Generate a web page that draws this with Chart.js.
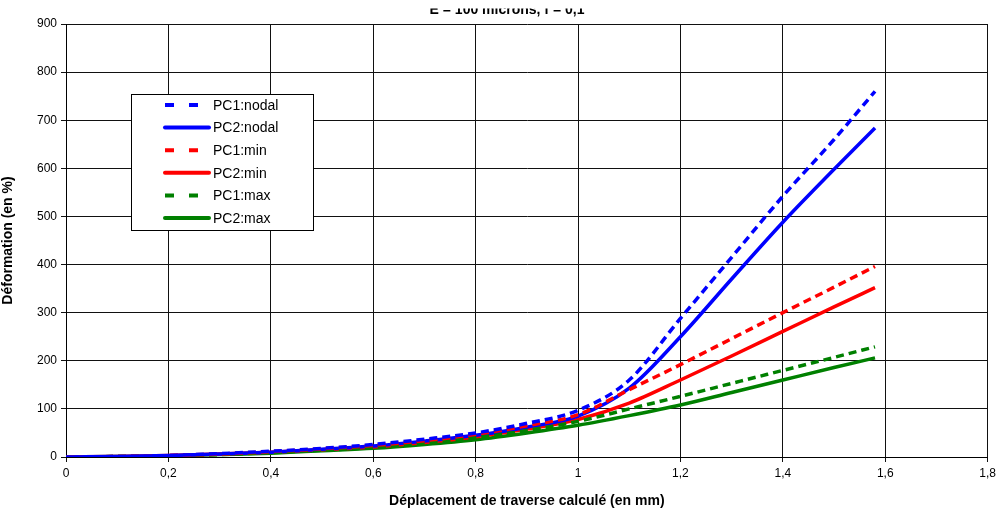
<!DOCTYPE html>
<html>
<head>
<meta charset="utf-8">
<script src="https://cdn.jsdelivr.net/npm/chart.js@4"></script>
<style>
  html, body { margin: 0; padding: 0; background: #fff; }
  #wrap { width: 1000px; height: 510px; position: relative; }
</style>
</head>
<body>
<div id="wrap"><canvas id="myChart" width="1000" height="510"></canvas></div>
<script>
// ===== data =====
const chartTitle = 'E = 100 microns, f = 0,1';
const xValues = [0, 0.1, 0.2, 0.3, 0.4, 0.5, 0.6, 0.7, 0.8, 0.9, 1.0, 1.1, 1.2, 1.3, 1.4, 1.5, 1.58];
const pc1Nodal = [0, 1, 3, 7, 12, 18, 26, 37, 50, 70, 97, 160, 288, 415, 542, 660, 760];
const pc2Nodal = [0, 1, 3, 6, 10, 16, 23, 33, 45, 62, 85, 143, 250, 370, 488, 598, 684];
const pc1Min   = [0, 1, 3, 6, 11, 17, 24, 34, 47, 65, 88, 140, 192, 246, 300, 353, 396];
const pc2Min   = [0, 1, 3, 6, 10, 15, 21, 30, 42, 58, 78, 112, 160, 210, 261, 312, 352];
const pc1Max   = [0, 1, 2, 5, 9, 14, 20, 29, 40, 55, 74, 100, 126, 153, 180, 207, 229];
const pc2Max   = [0, 1, 2, 5, 8, 13, 18, 26, 36, 50, 66, 86, 108, 134, 160, 186, 206];

const seriesLabels = ['PC1:nodal', 'PC2:nodal', 'PC1:min', 'PC2:min', 'PC1:max', 'PC2:max'];
const seriesValues = [pc1Nodal, pc2Nodal, pc1Min, pc2Min, pc1Max, pc2Max];
const seriesColors = ['#0000ff', '#0000ff', '#ff0000', '#ff0000', '#008000', '#008000'];
const seriesDashed = [true, false, true, false, true, false];

const xTitle = 'Déplacement de traverse calculé (en mm)';
const yTitle = 'Déformation (en %)';

// ===== datasets =====
const datasets = seriesLabels.map((label, i) => ({
  label: label,
  data: xValues.map((x, j) => ({ x: x, y: seriesValues[i][j] })),
  borderColor: seriesColors[i],
  backgroundColor: seriesColors[i],
  borderWidth: 3.5,
  borderDash: seriesDashed[i] ? [8, 5] : [],
  pointRadius: 0,
  cubicInterpolationMode: 'monotone',
  fill: false,
  order: seriesDashed[i] ? 0 : 1,
}));

// タイトル（上が切れている）
const clippedTitle = {
  id: 'clippedTitle',
  afterDraw(chart) {
    const ctx = chart.ctx;
    ctx.save();
    ctx.beginPath();
    ctx.rect(0, 8.5, chart.width, 20);
    ctx.clip();
    ctx.fillStyle = '#000';
    ctx.font = 'bold 14px "Liberation Sans", Arial, sans-serif';
    ctx.textAlign = 'center';
    ctx.textBaseline = 'alphabetic';
    ctx.fillText(chartTitle, 507, 13.5);
    ctx.restore();
  }
};

// 凡例（プロット内の枠）
const boxLegend = {
  id: 'boxLegend',
  afterDraw(chart) {
    const ctx = chart.ctx;
    const bx = 131.5, by = 94.5, bw = 182, bh = 136;
    ctx.save();
    ctx.fillStyle = '#fff';
    ctx.fillRect(bx, by, bw, bh);
    ctx.strokeStyle = '#000';
    ctx.lineWidth = 1;
    ctx.strokeRect(bx, by, bw, bh);
    ctx.font = '14px "Liberation Sans", Arial, sans-serif';
    ctx.textBaseline = 'middle';
    chart.data.datasets.forEach((ds, i) => {
      const y = 105 + i * 22.6;
      ctx.strokeStyle = ds.borderColor;
      ctx.lineWidth = 4;
      ctx.beginPath();
      if (ds.borderDash.length) {
        ctx.setLineDash([9, 15]);
        ctx.lineCap = 'butt';
        ctx.moveTo(165, y);
        ctx.lineTo(198, y);
      } else {
        ctx.setLineDash([]);
        ctx.lineCap = 'round';
        ctx.moveTo(165, y);
        ctx.lineTo(209, y);
      }
      ctx.stroke();
      ctx.fillStyle = '#000';
      ctx.fillText(ds.label, 213, y + 1);
    });
    ctx.restore();
  }
};

const gridStyle = {
  color: '#111',
  lineWidth: 1,
  drawTicks: true,
  tickLength: 5,
};

new Chart(document.getElementById('myChart'), {
  type: 'line',
  data: { datasets },
  options: {
    responsive: false,
    animation: false,
    layout: { padding: { left: 0, right: 12, top: 24, bottom: 0 } },
    plugins: {
      legend: { display: false },
      tooltip: { enabled: false },
    },
    scales: {
      x: {
        type: 'linear',
        min: 0,
        max: 1.8,
        afterFit: (s) => { s.height = 53; },
        grid: gridStyle,
        border: { color: '#000', width: 1 },
        ticks: {
          stepSize: 0.2,
          color: '#000',
          padding: 4,
          maxRotation: 0,
          font: { family: '"Liberation Sans", Arial, sans-serif', size: 12 },
          callback: (v) => String(Math.round(v * 10) / 10).replace('.', ','),
        },
        title: {
          display: true,
          text: xTitle,
          color: '#000',
          font: { family: '"Liberation Sans", Arial, sans-serif', size: 14, weight: 'bold' },
          padding: { top: 6, bottom: 0 },
        },
      },
      y: {
        min: 0,
        max: 900,
        afterFit: (s) => { s.width = 66; },
        grid: gridStyle,
        border: { color: '#000', width: 1 },
        ticks: {
          stepSize: 100,
          color: '#000',
          padding: 4,
          font: { family: '"Liberation Sans", Arial, sans-serif', size: 12 },
        },
        title: {
          display: true,
          text: yTitle,
          color: '#000',
          font: { family: '"Liberation Sans", Arial, sans-serif', size: 14, weight: 'bold' },
          padding: { top: 0, bottom: 4 },
        },
      },
    },
  },
  plugins: [clippedTitle, boxLegend],
});
</script>
</body>
</html>
